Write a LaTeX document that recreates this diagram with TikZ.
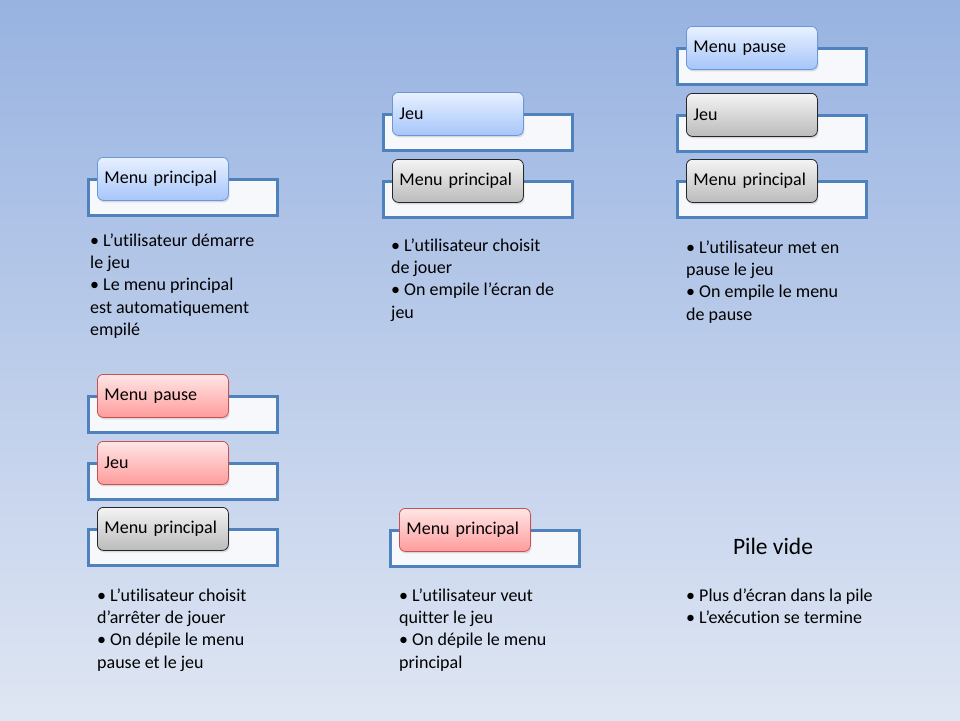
\documentclass[tikz,border=0pt]{standalone}
\usepackage{fontspec}
\setmainfont{Carlito}[Ligatures=NoCommon]
\usetikzlibrary{shadows}
\definecolor{bgtop}{HTML}{98B3E1}
\definecolor{bgbot}{HTML}{DFE6F3}
\definecolor{slotblue}{HTML}{4F81BD}
\definecolor{slotfill}{HTML}{F6F8FC}
\definecolor{btop}{HTML}{E8F1FF}
\definecolor{bbot}{HTML}{A6C6FA}
\definecolor{bline}{HTML}{6A97D8}
\definecolor{rtop}{HTML}{FFE6E6}
\definecolor{rbot}{HTML}{FF9C9C}
\definecolor{rline}{HTML}{C85050}
\definecolor{gtop}{HTML}{F4F4F4}
\definecolor{gbot}{HTML}{BBBBBB}
\definecolor{gline}{HTML}{262626}
\newcommand\tabfont{\fontsize{18}{21}\selectfont}
\newcommand\txtfont{\fontsize{18}{22.4}\selectfont}
\newcommand\stackentry[5]{%
  \node[slot] (#1s) at (#2-10,#3+21) {};
  \node[#4] (#1) at (#2,#3) {#5};
}
\tikzset{
  slot/.style={draw=slotblue, line width=2.5pt, fill=slotfill, minimum width=189pt,
    minimum height=36pt, anchor=north west, inner sep=0pt},
  tab/.style={rounded corners=6pt, minimum width=131pt, minimum height=43pt,
    anchor=north west, text width=117pt, inner xsep=7pt, align=left, font=\tabfont,
    line width=0.8pt,
    drop shadow={opacity=0.25, shadow xshift=1pt, shadow yshift=-2pt}},
  bluetab/.style={tab, draw=bline, top color=btop, bottom color=bbot},
  redtab/.style={tab, draw=rline, top color=rtop, bottom color=rbot},
  graytab/.style={tab, draw=gline, top color=gtop, bottom color=gbot},
  desc/.style={anchor=base west, align=left, inner sep=0pt, font=\txtfont}
}
\begin{document}
\begin{tikzpicture}[x=1pt,y=-1pt]
\useasboundingbox (0,0) rectangle (960,720);
\shade[top color=bgtop, bottom color=bgbot] (0pt,0pt) rectangle (960pt,-720pt);

% Panel 1
\stackentry{pa}{97}{157}{bluetab}{Menu principal}
\node[desc] (ta) at (90,335.6) {• L’utilisateur démarre\\le jeu\\• Le menu principal\\est automatiquement\\empilé};

% Panel 2
\stackentry{pbj}{392}{92}{bluetab}{Jeu}
\stackentry{pbm}{392}{159}{graytab}{Menu principal}
\node[desc] (tb) at (391,318.2) {• L’utilisateur choisit\\de jouer\\• On empile l’écran de\\jeu};

% Panel 3
\stackentry{pcp}{686}{26}{bluetab}{Menu pause}
\stackentry{pcj}{686}{93}{graytab}{Jeu}
\stackentry{pcm}{686}{159}{graytab}{Menu principal}
\node[desc] (tc) at (686,320.2) {• L’utilisateur met en\\pause le jeu\\• On empile le menu\\de pause};

% Panel 4
\stackentry{pdp}{97}{374}{redtab}{Menu pause}
\stackentry{pdj}{97}{441}{redtab}{Jeu}
\stackentry{pdm}{97}{507}{graytab}{Menu principal}
\node[desc] (td) at (97,668.2) {• L’utilisateur choisit\\d’arrêter de jouer\\• On dépile le menu\\pause et le jeu};

% Panel 5
\stackentry{pem}{399}{508}{redtab}{Menu principal}
\node[desc] (te) at (399,668.2) {• L’utilisateur veut\\quitter le jeu\\• On dépile le menu\\principal};

% Panel 6
\node[anchor=base, inner sep=0pt, font=\fontsize{23.5}{27}\selectfont] (pf) at (773,554) {Pile vide};
\node[desc] (tf) at (686,623.4) {• Plus d’écran dans la pile\\• L’exécution se termine};
\end{tikzpicture}
\end{document}
